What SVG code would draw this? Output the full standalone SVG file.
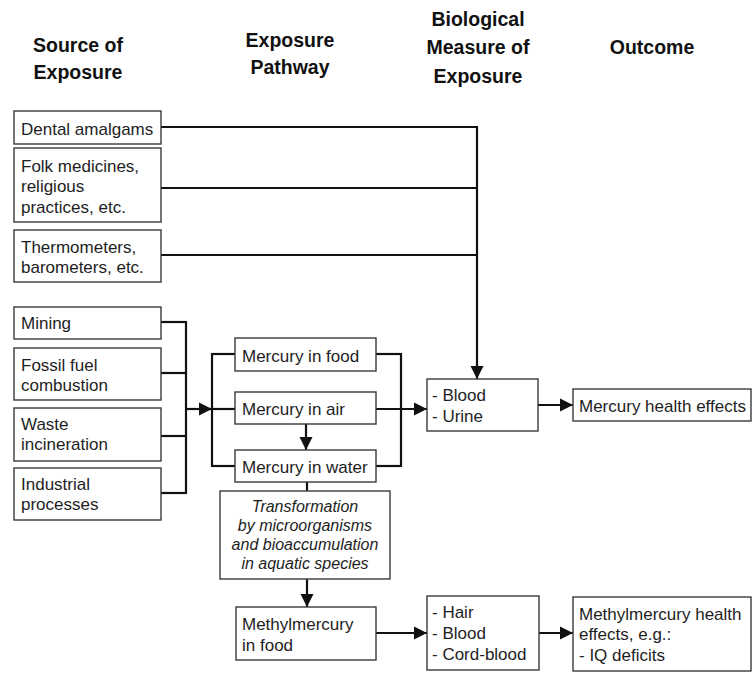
<svg xmlns="http://www.w3.org/2000/svg" width="752" height="673" viewBox="0 0 752 673">
<style>
.bg{fill:#ffffff}
.box{fill:#ffffff;stroke:#3a3a3a;stroke-width:1.4}
.t{font-family:"Liberation Sans",Arial,sans-serif;font-size:17px;fill:#1e1e1e}
.ti{font-family:"Liberation Sans",Arial,sans-serif;font-size:16px;font-style:italic;fill:#1e1e1e}
.h{font-family:"Liberation Sans",Arial,sans-serif;font-size:19.5px;font-weight:bold;fill:#111111;text-anchor:middle}
.c{fill:none;stroke:#111111;stroke-width:2.2}
.a{fill:none;stroke:#111111;stroke-width:2.2;marker-end:url(#arr)}
</style>
<defs>
<marker id="arr" markerUnits="userSpaceOnUse" markerWidth="14" markerHeight="14" refX="13" refY="7" orient="auto">
<path d="M0,0.5 L13,7 L0,13.5 z" fill="#111111"/>
</marker>
</defs>
<rect class="bg" x="0" y="0" width="752" height="673"/>

<g id="headers">
<text class="h" x="78" y="52">Source of</text>
<text class="h" x="78" y="79">Exposure</text>
<text class="h" x="290" y="47">Exposure</text>
<text class="h" x="290" y="74">Pathway</text>
<text class="h" x="478" y="26">Biological</text>
<text class="h" x="478" y="54">Measure of</text>
<text class="h" x="478" y="83">Exposure</text>
<text class="h" x="652" y="54">Outcome</text>
</g>

<g id="connectors">
<path class="c" d="M161,127 H477"/>
<path class="c" d="M161,188 H477"/>
<path class="c" d="M161,255 H477"/>
<path class="a" d="M477,126 V379"/>
<path class="c" d="M161,322 H186"/>
<path class="c" d="M161,373 H186"/>
<path class="c" d="M161,436 H186"/>
<path class="c" d="M161,493 H186"/>
<path class="c" d="M186,321 V494"/>
<path class="a" d="M186,409 H212"/>
<path class="c" d="M212,353 V467"/>
<path class="c" d="M212,354 H235"/>
<path class="c" d="M212,409 H235"/>
<path class="c" d="M212,466 H235"/>
<path class="c" d="M376,354 H401"/>
<path class="c" d="M376,466 H401"/>
<path class="c" d="M401,353 V467"/>
<path class="a" d="M376,409 H427"/>
<path class="a" d="M306,424 V450"/>
<path class="c" d="M307,482 V491"/>
<path class="a" d="M307,579 V607"/>
<path class="a" d="M538,405 H573"/>
<path class="a" d="M376,633 H427"/>
<path class="a" d="M539,633 H573"/>
</g>

<g id="dental">
<rect class="box" x="14" y="111" width="147" height="33"/>
<text class="t" x="21" y="135">Dental amalgams</text>
</g>
<g id="folk">
<rect class="box" x="14" y="148" width="147" height="74"/>
<text class="t" x="21" y="172">Folk medicines,</text>
<text class="t" x="21" y="192">religious</text>
<text class="t" x="21" y="213">practices, etc.</text>
</g>
<g id="thermometers">
<rect class="box" x="14" y="230" width="147" height="52"/>
<text class="t" x="21" y="253">Thermometers,</text>
<text class="t" x="21" y="273">barometers, etc.</text>
</g>
<g id="mining">
<rect class="box" x="14" y="307" width="147" height="32"/>
<text class="t" x="21" y="329">Mining</text>
</g>
<g id="fossil">
<rect class="box" x="14" y="348" width="147" height="52"/>
<text class="t" x="21" y="371">Fossil fuel</text>
<text class="t" x="21" y="391">combustion</text>
</g>
<g id="waste">
<rect class="box" x="14" y="408" width="147" height="53"/>
<text class="t" x="21" y="430">Waste</text>
<text class="t" x="21" y="450">incineration</text>
</g>
<g id="industrial">
<rect class="box" x="14" y="468" width="147" height="52"/>
<text class="t" x="21" y="490">Industrial</text>
<text class="t" x="21" y="510">processes</text>
</g>

<g id="food">
<rect class="box" x="235" y="338" width="141" height="33"/>
<text class="t" x="242" y="362">Mercury in food</text>
</g>
<g id="air">
<rect class="box" x="235" y="392" width="141" height="32"/>
<text class="t" x="242" y="415">Mercury in air</text>
</g>
<g id="water">
<rect class="box" x="235" y="450" width="141" height="32"/>
<text class="t" x="242" y="473">Mercury in water</text>
</g>
<g id="transformation">
<rect class="box" x="220" y="491" width="170" height="88"/>
<text class="ti" x="305" y="512" text-anchor="middle">Transformation</text>
<text class="ti" x="305" y="531" text-anchor="middle">by microorganisms</text>
<text class="ti" x="305" y="550" text-anchor="middle">and bioaccumulation</text>
<text class="ti" x="305" y="569" text-anchor="middle">in aquatic species</text>
</g>
<g id="methylfood">
<rect class="box" x="236" y="607" width="140" height="53"/>
<text class="t" x="242" y="630">Methylmercury</text>
<text class="t" x="242" y="651">in food</text>
</g>

<g id="blood-urine">
<rect class="box" x="427" y="379" width="111" height="52"/>
<text class="t" x="432" y="401">- Blood</text>
<text class="t" x="432" y="422">- Urine</text>
</g>
<g id="hair-blood">
<rect class="box" x="427" y="596" width="112" height="74"/>
<text class="t" x="432" y="618">- Hair</text>
<text class="t" x="432" y="639">- Blood</text>
<text class="t" x="432" y="660">- Cord-blood</text>
</g>

<g id="mercury-health">
<rect class="box" x="573" y="389" width="178" height="32"/>
<text class="t" x="579" y="412">Mercury health effects</text>
</g>
<g id="methyl-health">
<rect class="box" x="573" y="597" width="178" height="74"/>
<text class="t" x="579" y="620">Methylmercury health</text>
<text class="t" x="579" y="640">effects, e.g.:</text>
<text class="t" x="579" y="661">- IQ deficits</text>
</g>
</svg>
